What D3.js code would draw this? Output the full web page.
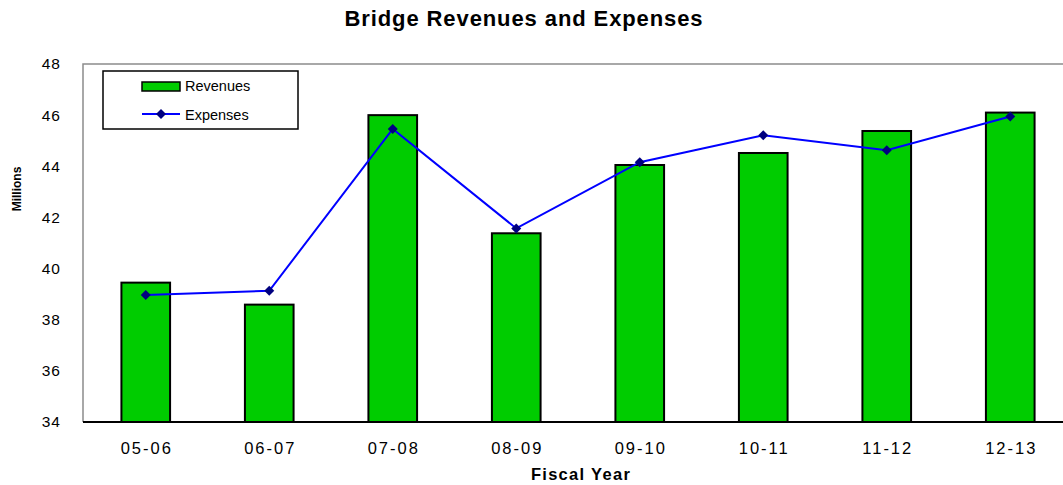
<!DOCTYPE html>
<html lang="en">
    <head>
        <meta charset="utf-8">
        <title>bridge_revenues</title>
        <script type="text/javascript" src="https://cdn.jsdelivr.net/npm/d3@7/dist/d3.min.js"></script>
        <style>
            body { margin: 0; background: #fff; }
            text { font-family: Arial, "Liberation Sans", sans-serif; fill: #000; }
        </style>
    </head>

    <body>
        <script type="text/javascript">
        var w = 1063;
        var h = 485;

        // Data (millions)
        var years = ["05-06", "06-07", "07-08", "08-09", "09-10", "10-11", "11-12", "12-13"];
        var revenues = [39.45, 38.59, 46.0, 41.38, 44.05, 44.52, 45.38, 46.1];
        var expenses = [38.97, 39.13, 45.46, 41.57, 44.16, 45.21, 44.63, 45.95];
        var yTicks = [34, 36, 38, 40, 42, 44, 46, 48];

        // plot area (window.top is taken, so use other names)
        var plotLeft = 83, plotTop = 64, plotBottom = 422, plotRight = 1072;

        var svg = d3.select("body")
                    .append("svg")
                    .attr("width", w)
                    .attr("height", h);

        var xScale = d3.scaleBand()
                    .domain(years)
                    .range([plotLeft + 1, plotRight]);

        var yScale = d3.scaleLinear()
                    .domain([34, 48])
                    .range([plotBottom, plotTop]);

        var barW = xScale.bandwidth() * 0.394;
        var cx = function(d){ return xScale(d) + xScale.bandwidth() / 2; };

        // plot border (grey left + top)
        svg.append("path")
            .attr("d", "M" + plotLeft + "," + plotBottom + "V" + plotTop + "H" + w)
            .attr("fill", "none")
            .attr("stroke", "#8c8c8c")
            .attr("stroke-width", 1.5);

        // bars
        svg.selectAll("rect.bar")
            .data(revenues)
            .enter()
            .append("rect")
            .attr("class", "bar")
            .attr("x", function(d, i){ return cx(years[i]) - barW / 2; })
            .attr("y", function(d){ return yScale(d); })
            .attr("width", barW)
            .attr("height", function(d){ return plotBottom - yScale(d); })
            .attr("fill", "#00cc00")
            .attr("stroke", "#000")
            .attr("stroke-width", 2);

        // x axis line
        svg.append("line")
            .attr("x1", plotLeft).attr("x2", w)
            .attr("y1", plotBottom).attr("y2", plotBottom)
            .attr("stroke", "#000")
            .attr("stroke-width", 2);

        // expenses line
        var line = d3.line()
                    .x(function(d, i){ return cx(years[i]); })
                    .y(function(d){ return yScale(d); });

        svg.append("path")
            .datum(expenses)
            .attr("d", line)
            .attr("fill", "none")
            .attr("stroke", "#0000ff")
            .attr("stroke-width", 2);

        var diamond = d3.symbol().type(d3.symbolSquare).size(50);

        svg.selectAll("path.pt")
            .data(expenses)
            .enter()
            .append("path")
            .attr("class", "pt")
            .attr("d", diamond)
            .attr("transform", function(d, i){
                return "translate(" + cx(years[i]) + "," + yScale(d) + ") rotate(45)";
            })
            .attr("fill", "#000080");

        // y tick labels (no tick marks)
        svg.selectAll("text.ytick")
            .data(yTicks)
            .enter()
            .append("text")
            .attr("class", "ytick")
            .attr("x", 61)
            .attr("y", function(d){ return yScale(d); })
            .attr("dy", "0.35em")
            .attr("text-anchor", "end")
            .attr("font-size", "15.5px")
            .attr("letter-spacing", "1px")
            .text(function(d){ return d; });

        // x tick labels
        svg.selectAll("text.xtick")
            .data(years)
            .enter()
            .append("text")
            .attr("class", "xtick")
            .attr("x", function(d){ return cx(d) + 1; })
            .attr("y", 448)
            .attr("dy", "0.35em")
            .attr("text-anchor", "middle")
            .attr("font-size", "16.5px")
            .attr("letter-spacing", "2px")
            .text(function(d){ return d; });

        // titles
        svg.append("text")
            .attr("x", 524)
            .attr("y", 18)
            .attr("dy", "0.35em")
            .attr("text-anchor", "middle")
            .attr("font-size", "22px")
            .attr("font-weight", "bold")
            .attr("letter-spacing", "0.9px")
            .text("Bridge Revenues and Expenses");

        svg.append("text")
            .attr("x", 581)
            .attr("y", 474)
            .attr("dy", "0.35em")
            .attr("text-anchor", "middle")
            .attr("font-size", "16.5px")
            .attr("font-weight", "bold")
            .attr("letter-spacing", "1.3px")
            .text("Fiscal Year");

        svg.append("text")
            .attr("transform", "translate(17,189) rotate(-90)")
            .attr("dy", "0.35em")
            .attr("text-anchor", "middle")
            .attr("font-size", "12px")
            .attr("font-weight", "bold")
            .text("Millions");

        // legend
        var legend = svg.append("g");

        legend.append("rect")
            .attr("x", 103).attr("y", 71)
            .attr("width", 195).attr("height", 58)
            .attr("fill", "#fff")
            .attr("stroke", "#000")
            .attr("stroke-width", 1.5);

        legend.append("rect")
            .attr("x", 142).attr("y", 82)
            .attr("width", 38).attr("height", 9)
            .attr("fill", "#00cc00")
            .attr("stroke", "#000")
            .attr("stroke-width", 1.5);

        legend.append("line")
            .attr("x1", 142).attr("x2", 180)
            .attr("y1", 114).attr("y2", 114)
            .attr("stroke", "#0000ff")
            .attr("stroke-width", 2);

        legend.append("path")
            .attr("d", diamond)
            .attr("transform", "translate(161,114) rotate(45)")
            .attr("fill", "#000080");

        legend.selectAll("text")
            .data(["Revenues", "Expenses"])
            .enter()
            .append("text")
            .attr("x", 185)
            .attr("y", function(d, i){ return 86 + i * 29; })
            .attr("dy", "0.35em")
            .attr("font-size", "14.5px")
            .text(function(d){ return d; });
        </script>
    </body>
</html>
